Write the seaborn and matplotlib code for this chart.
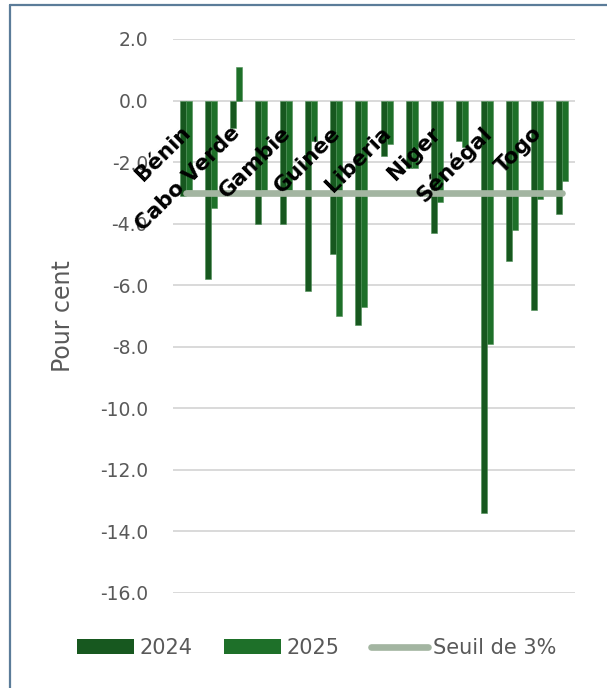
import numpy as np
import pandas as pd
import matplotlib
matplotlib.use("Agg")
import matplotlib.pyplot as plt
from matplotlib.patches import Patch
from matplotlib.lines import Line2D
import seaborn as sns

# Solde budgétaire global (en % du PIB), pays de la CEDEAO
pays = ["Bénin", "Burkina Faso", "Cabo Verde", "Côte d'Ivoire", "Gambie", "Ghana",
        "Guinée", "Guinée-Bissau", "Liberia", "Mali", "Niger", "Nigeria",
        "Sénégal", "Sierra Leone", "Togo", "CEDEAO"]
solde_2024 = [-3.1, -5.8, -0.9, -4.0, -4.0, -6.2, -5.0, -7.3,
              -1.8, -2.2, -4.3, -1.3, -13.4, -5.2, -6.8, -3.7]
solde_2025 = [-2.9, -3.5, 1.1, -2.9, -2.9, -1.3, -7.0, -6.7,
              -1.4, -2.2, -3.3, -1.5, -7.9, -4.2, -3.2, -2.6]
seuil = -3.0
annees = ["2024", "2025"]
y_ticks = [2.0, 0.0, -2.0, -4.0, -6.0, -8.0, -10.0, -12.0, -14.0, -16.0]

df = pd.DataFrame({
    "pays": pays * 2,
    "annee": [annees[0]] * len(pays) + [annees[1]] * len(pays),
    "solde": solde_2024 + solde_2025,
})

sns.set_theme(style="white")
plt.rcParams["font.family"] = ["DejaVu Sans"]
plt.rcParams["axes.unicode_minus"] = False

couleurs = {"2024": "#17581F", "2025": "#1E7029"}
gris_texte = "#595959"
couleur_seuil = "#A3B5A1"

fig = plt.figure(figsize=(6.07, 6.88), dpi=100)
ax = fig.add_axes([173 / 607, 1 - 593 / 688, 402 / 607, 554 / 688])

sns.barplot(data=df, x="pays", y="solde", hue="annee", palette=couleurs,
            width=0.48, gap=0, saturation=1, legend=False, ax=ax,
            edgecolor="#4E8F57", linewidth=0.4, zorder=2)

# Seuil de convergence de 3 %
pos = np.arange(len(pays))
sns.lineplot(x=pos, y=[seuil] * len(pays), color=couleur_seuil, linewidth=4.8,
             ax=ax, zorder=3)
for ln in ax.lines:
    ln.set_solid_capstyle("round")

ax.set_xlim(-0.5, len(pays) - 0.5)
ax.set_ylim(-16, 2)
ax.set_yticks(y_ticks)
ax.set_yticklabels([f"{v:.1f}" for v in y_ticks])
ax.tick_params(axis="y", length=0, pad=18, labelsize=13.5, labelcolor=gris_texte)
ax.set_xticks([])
ax.set_xlabel("")
ax.set_ylabel("Pour cent", fontsize=17, color=gris_texte)
ax.yaxis.set_label_coords(-0.245, 0.5)
ax.yaxis.grid(True, color="#D9D9D9", linewidth=1.4)
ax.set_axisbelow(True)
for s in ax.spines.values():
    s.set_visible(False)

# Étiquettes de catégories (une sur deux), inclinées à 45°
for i in range(0, len(pays), 2):
    ax.text(pos[i] + 0.05, -0.95, pays[i], rotation=45, rotation_mode="anchor",
            ha="right", va="center", fontsize=15.5, fontweight="bold",
            color="black", zorder=5)

handles = [
    Patch(facecolor=couleurs["2024"], edgecolor="none", label="2024"),
    Patch(facecolor=couleurs["2025"], edgecolor="none", label="2025"),
    Line2D([0], [0], color=couleur_seuil, linewidth=4.8, solid_capstyle="round",
           label="Seuil de 3%"),
]
leg = fig.legend(handles=handles, loc="center", bbox_to_anchor=(0.522, 1 - 648 / 688),
                 ncol=3, frameon=False, fontsize=15, handlelength=2.75,
                 handleheight=0.75, handletextpad=0.25, columnspacing=1.5)
for t in leg.get_texts():
    t.set_color(gris_texte)

# Cadre du graphique
bord = "#5B7C99"
fig.add_artist(Line2D([10 / 607, 10 / 607], [0, 1 - 5 / 688], transform=fig.transFigure,
                      color=bord, linewidth=1.6))
fig.add_artist(Line2D([10 / 607, 1], [1 - 5 / 688, 1 - 5 / 688], transform=fig.transFigure,
                      color=bord, linewidth=1.6))

fig.savefig("out.png", dpi=100)
